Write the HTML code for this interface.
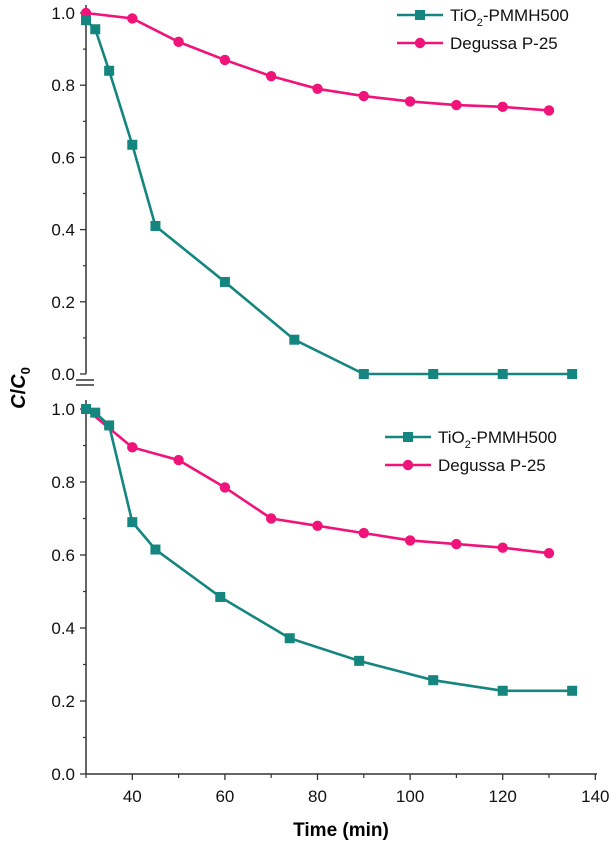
<!DOCTYPE html>
<html><head><meta charset="utf-8"><style>
html,body{margin:0;padding:0;background:#fff;}
svg{display:block;font-family:"Liberation Sans",Arial,sans-serif;}
</style></head><body>
<svg id="chart" width="616" height="849" viewBox="0 0 616 849"></svg>
<script>
const xTicks=[40,60,80,100,120,140];
const yTicks=[0.0,0.2,0.4,0.6,0.8,1.0];
const yTickLabels=["0.0","0.2","0.4","0.6","0.8","1.0"];
const topTeaX=[30,32,35,40,45,60,75,90,105,120,135];
const topTeaY=[0.98,0.955,0.84,0.635,0.41,0.255,0.095,0,0,0,0];
const topPinkX=[30,40,50,60,70,80,90,100,110,120,130];
const topPinkY=[1.0,0.985,0.92,0.87,0.825,0.79,0.77,0.755,0.745,0.74,0.73];
const botTeaX=[30,32,35,40,45,59,74,89,105,120,135];
const botTeaY=[1.0,0.99,0.955,0.69,0.615,0.485,0.372,0.31,0.257,0.228,0.228];
const botPinkX=[30,40,50,60,70,80,90,100,110,120,130];
const botPinkY=[1.0,0.895,0.86,0.785,0.70,0.68,0.66,0.64,0.63,0.62,0.605];

const NS="http://www.w3.org/2000/svg";
const svg=document.getElementById('chart');
const TEAL="#14857f",PINK="#f0147a";
function xs(v){return 86+(v-30)*4.63;}
function ysTop(v){return 374-v*361;}
function ysBot(v){return 774-v*365;}
function mk(tag,attrs,parent){const e=document.createElementNS(NS,tag);for(const k in attrs)e.setAttribute(k,attrs[k]);(parent||svg).appendChild(e);return e;}

let a=mk('line',{x1:86,y1:5,x2:86,y2:374,stroke:'#333','stroke-width':1.5});


a=mk('line',{x1:86,y1:400,x2:86,y2:774,stroke:'#333','stroke-width':1.5});


a=mk('line',{x1:86,y1:774,x2:597,y2:774,stroke:'#333','stroke-width':1.5});



function yAxisTicks(ys,prefix){
  yTicks.forEach((v,i)=>{
    const y=ys(v);
    const t=mk('line',{x1:80,y1:y,x2:86,y2:y,stroke:'#333','stroke-width':1.3});
    
    
    if(i<yTicks.length-1){const ym=ys(v+0.1);
      const m=mk('line',{x1:83,y1:ym,x2:86,y2:ym,stroke:'#333','stroke-width':1.2});
      
      }
    const l=mk('text',{x:75,y:y+6,'text-anchor':'end','font-size':17,fill:'#111'});
    l.textContent=yTickLabels[i];
    
    
  });
}
yAxisTicks(ysTop,'top');
yAxisTicks(ysBot,'bottom');
xTicks.forEach(v=>{
  const x=xs(v);
  const t=mk('line',{x1:x,y1:774,x2:x,y2:780,stroke:'#333','stroke-width':1.3});
  
  
  const m=mk('line',{x1:xs(v-10),y1:774,x2:xs(v-10),y2:778,stroke:'#333','stroke-width':1.2});
  
  
  const l=mk('text',{x:x,y:802,'text-anchor':'middle','font-size':17,fill:'#111'});
  l.textContent=v;
  
  
});
a=mk('line',{x1:76,y1:380,x2:94,y2:380,stroke:'#333','stroke-width':1.5});


a=mk('line',{x1:76,y1:385,x2:94,y2:385,stroke:'#333','stroke-width':1.5});



function series(X,Y,ys,color,shape,name){
  const g=mk('g',{});
  
  
  const pts=X.map((x,i)=>xs(x)+','+ys(Y[i])).join(' ');
  mk('polyline',{points:pts,fill:'none',stroke:color,'stroke-width':2.6},g);
  X.forEach((x,i)=>{
    let m;
    if(shape==='sq') m=mk('rect',{x:xs(x)-5,y:ys(Y[i])-5,width:10,height:10,fill:color},g);
    else m=mk('circle',{cx:xs(x),cy:ys(Y[i]),r:5.2,fill:color},g);
    
    
  });
}
series(topPinkX,topPinkY,ysTop,PINK,'c','top-degussa-series');
series(topTeaX,topTeaY,ysTop,TEAL,'sq','top-tio2-series');
series(botPinkX,botPinkY,ysBot,PINK,'c','bottom-degussa-series');
series(botTeaX,botTeaY,ysBot,TEAL,'sq','bottom-tio2-series');

function legend(x0,y0,prefix){
  const items=[[TEAL,'sq','tio2'],[PINK,'c','degussa']];
  items.forEach((it,i)=>{
    const y=y0+i*28;
    const g=mk('g',{});
    
    
    mk('line',{x1:x0,y1:y,x2:x0+46,y2:y,stroke:it[0],'stroke-width':2.6},g);
    if(it[1]==='sq') mk('rect',{x:x0+18,y:y-5,width:10,height:10,fill:it[0]},g);
    else mk('circle',{cx:x0+23,cy:y,r:5.2,fill:it[0]},g);
    const t=mk('text',{x:x0+53,y:y+6,'font-size':17,fill:'#111'},g);
    if(i===0){t.innerHTML='TiO<tspan font-size="11" dy="5">2</tspan><tspan dy="-5">-PMMH500</tspan>';}
    else t.textContent='Degussa P-25';
  });
}
legend(397,15,'top');
legend(385,437,'bottom');

let yl=mk('text',{x:0,y:0,'font-size':20,'font-weight':'bold',fill:'#000',transform:'translate(25,388) rotate(-90)','text-anchor':'middle'});
yl.innerHTML='<tspan font-style="italic">C</tspan>/<tspan font-style="italic">C</tspan><tspan font-size="13" dy="5">0</tspan>';


let xl=mk('text',{x:341,y:836,'font-size':19,'font-weight':'bold',fill:'#000','text-anchor':'middle'});
xl.textContent='Time (min)';


</script>
</body></html>
